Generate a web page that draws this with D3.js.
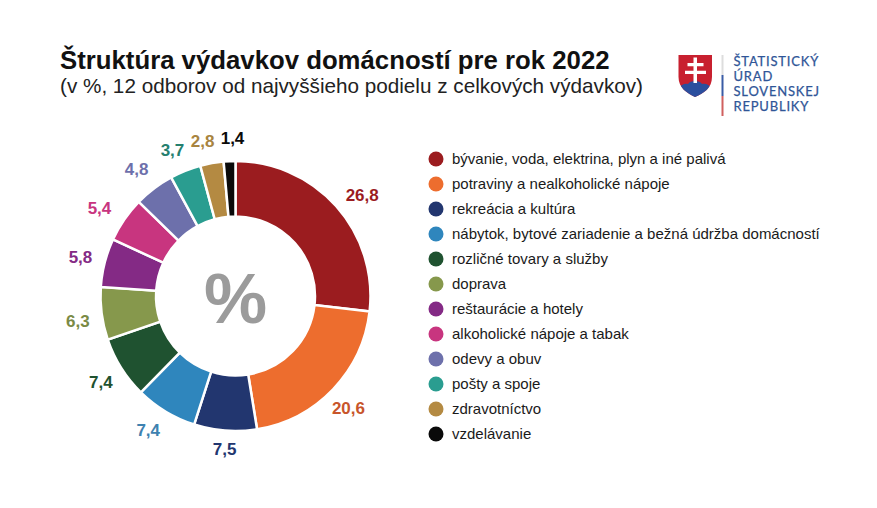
<!DOCTYPE html>
<html>
<head>
<meta charset="utf-8">
<script src="https://cdn.jsdelivr.net/npm/d3@7"></script>
<style>
  html, body { margin: 0; padding: 0; background: #fff; }
  svg { display: block; font-family: "Liberation Sans", Arial, sans-serif; }
</style>
</head>
<body>
<svg id="chart" width="877" height="508"></svg>
<script>
// Data
const categories = [
  'bývanie, voda, elektrina, plyn a iné palivá',
  'potraviny a nealkoholické nápoje',
  'rekreácia a kultúra',
  'nábytok, bytové zariadenie a bežná údržba domácností',
  'rozličné tovary a služby',
  'doprava',
  'reštaurácie a hotely',
  'alkoholické nápoje a tabak',
  'odevy a obuv',
  'pošty a spoje',
  'zdravotníctvo',
  'vzdelávanie'
];
const values = [26.8, 20.6, 7.5, 7.4, 7.4, 6.3, 5.8, 5.4, 4.8, 3.7, 2.8, 1.4];
const colors = ['#9b1c1f', '#ed6d2e', '#22366f', '#2f86bd', '#1f5230', '#86984c',
  '#842a85', '#c8357f', '#6d70ab', '#2a9d90', '#b48a42', '#0a0a0a'];
const labelColors = ['#9b1c1f', '#c8552b', '#22366f', '#3f82b0', '#1f5230', '#7a8a45',
  '#842a85', '#c8357f', '#6d70ab', '#25806f', '#a88440', '#0a0a0a'];

// hand placed labels in the original, nudge them off the ring radius
const labelDx = [8, -2, 1, -5, 0, 0, -1, -5, -3, -4, -5, 4];
const labelDy = [5, 3, -5, -2, 2, 5, 1, 3, 0, 2, 2, 1];

const svg = d3.select('#chart');
const fmt = d => String(d).replace('.', ',');

// Title
svg.append('text').attr('x', 60).attr('y', 69)
  .attr('font-size', 25.75).attr('font-weight', 700).attr('fill', '#111')
  .text('Štruktúra výdavkov domácností pre rok 2022');
svg.append('text').attr('x', 60).attr('y', 92.5)
  .attr('font-size', 20.7).attr('fill', '#222')
  .text('(v %, 12 odborov od najvyššieho podielu z celkových výdavkov)');

// Donut
const cx = 235.5, cy = 296;
const pie = d3.pie().sort(null).value(d => d);
const arc = d3.arc().innerRadius(79.5).outerRadius(135);
const labelArc = d3.arc().innerRadius(159).outerRadius(159);
const g = svg.append('g').attr('transform', `translate(${cx},${cy})`);

g.selectAll('path.slice')
  .data(pie(values))
  .enter()
  .append('path')
  .attr('class', 'slice')
  .attr('d', arc)
  .attr('fill', (d, i) => colors[i])
  .attr('stroke', '#fff')
  .attr('stroke-width', 2.5);

g.selectAll('text.value')
  .data(pie(values))
  .enter()
  .append('text')
  .attr('class', 'value')
  .attr('x', (d, i) => labelArc.centroid(d)[0] + labelDx[i])
  .attr('y', (d, i) => labelArc.centroid(d)[1] + labelDy[i])
  .attr('text-anchor', 'middle')
  .attr('dominant-baseline', 'central')
  .attr('font-size', 17)
  .attr('font-weight', 700)
  .attr('fill', (d, i) => labelColors[i])
  .text(d => fmt(d.data));

g.append('text')
  .attr('text-anchor', 'middle')
  .attr('y', 27)
  .attr('font-size', 71)
  .attr('font-weight', 700)
  .attr('fill', '#9b9b9b')
  .text('%');

// Legend
const legendY = d3.scalePoint().domain(categories).range([159, 434]);
const legend = svg.selectAll('g.legend')
  .data(categories)
  .enter()
  .append('g')
  .attr('class', 'legend')
  .attr('transform', d => `translate(436,${legendY(d)})`);
legend.append('circle').attr('r', 7.5).attr('fill', (d, i) => colors[i]);
legend.append('text')
  .attr('x', 16)
  .attr('y', -1)
  .attr('dominant-baseline', 'central')
  .attr('font-size', 15)
  .attr('fill', '#1a1a1a')
  .text(d => d);

// Logo
const shield = 'M678.5 55H712V77C712 88 704 93 695 97C687 93 678.5 88 678.5 77Z';
const logo = svg.append('g');
logo.append('path').attr('d', shield).attr('fill', '#c8202f');
logo.append('clipPath').attr('id', 'shield').append('path').attr('d', shield);
logo.append('path')
  .attr('d', 'M678 88C682 85 684 83 688 84C690 80 700 80 702 84C706 83 709 85 712 88V98H678Z')
  .attr('fill', '#2b4f9e')
  .attr('clip-path', 'url(#shield)');
logo.append('path')
  .attr('d', 'M693.5 57.5h3.5v5.5h6.5v3.2h-6.5v4.6h9v3.2h-9v9h-3.5v-9h-8.5v-3.2h8.5v-4.6h-6v-3.2h6z')
  .attr('fill', '#fff');
logo.append('rect').attr('x', 721.5).attr('y', 55).attr('width', 2).attr('height', 20).attr('fill', '#dddddd');
logo.append('rect').attr('x', 721.5).attr('y', 75).attr('width', 2).attr('height', 21).attr('fill', '#3a5ca5');
logo.append('rect').attr('x', 721.5).attr('y', 96).attr('width', 2).attr('height', 20).attr('fill', '#d0605f');

const logoLines = ['ŠTATISTICKÝ', 'ÚRAD', 'SLOVENSKEJ', 'REPUBLIKY'];
logo.selectAll('text')
  .data(logoLines)
  .enter()
  .append('text')
  .attr('x', 733.5)
  .attr('y', (d, i) => 65.5 + i * 15.2)
  .attr('font-family', 'Lato, sans-serif')
  .attr('font-size', 13)
  .attr('letter-spacing', 0.8)
  .attr('fill', '#2f5597')
  .attr('stroke', '#2f5597')
  .attr('stroke-width', 0.25)
  .text(d => d);
</script>
</body>
</html>
